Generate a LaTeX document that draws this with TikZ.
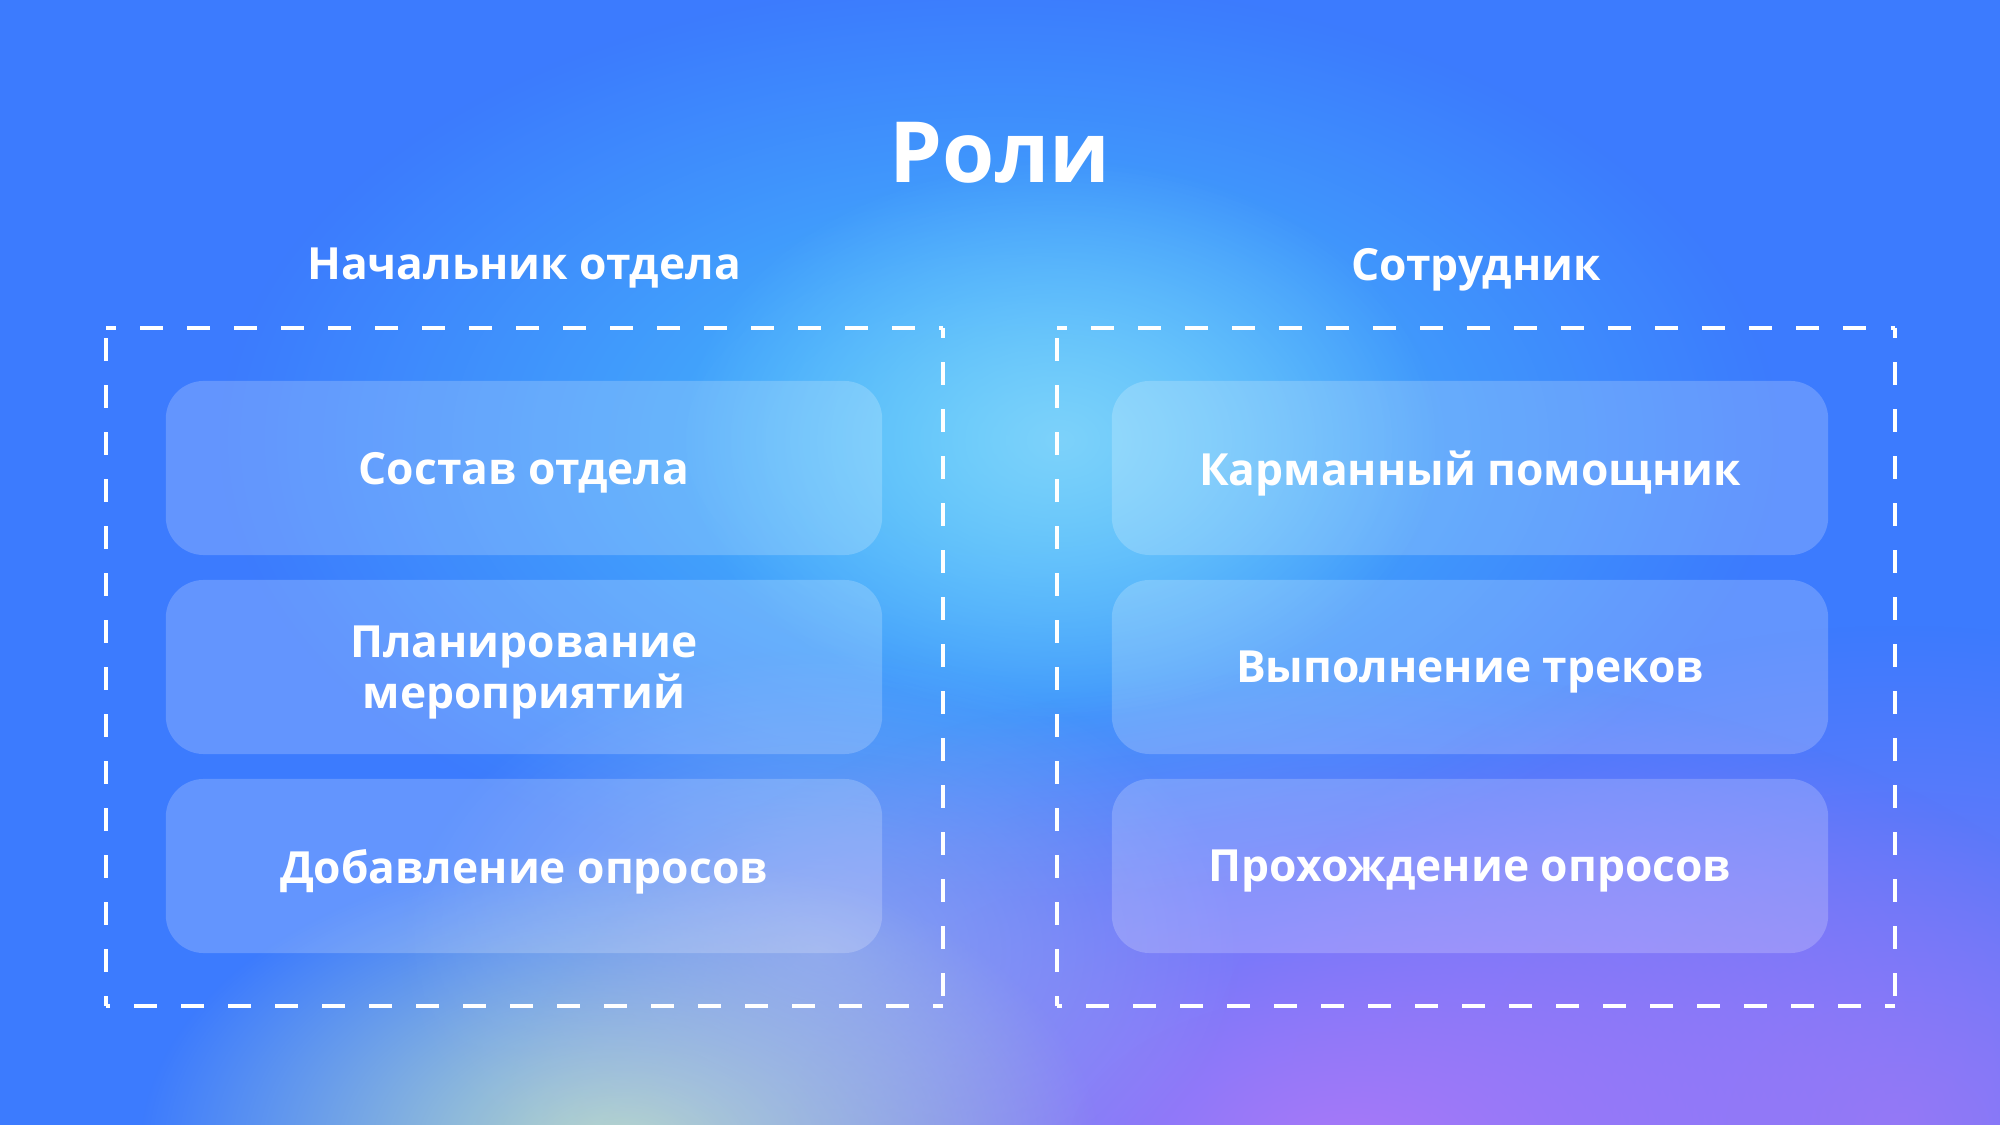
\documentclass[tikz,border=0pt]{standalone}
\usepackage{fontspec}
\setmainfont{Open Sans}
\usetikzlibrary{fadings}
\definecolor{bgblue}{HTML}{3C7BFE}
\definecolor{glowcyan}{HTML}{46BEFA}
\definecolor{glowpurple}{HTML}{A878F8}
\definecolor{glowgreen}{HTML}{BCDCC8}
\definecolor{glowviolet}{HTML}{8A78F6}
\definecolor{glowlilac}{HTML}{A8BCEC}
\tikzfading[name=glow, inner color=transparent!0, outer color=transparent!100]
\tikzset{
  rolebox/.style={rounded corners=0.38cm, fill=white, fill opacity=0.2, text opacity=1,
    minimum width=7.16cm, minimum height=1.74cm, text=white, align=center, text depth=0pt,
    font=\bfseries\fontsize{12.6pt}{14.6pt}\selectfont},
  header/.style={text=white, text depth=0pt, font=\bfseries\fontsize{12.6pt}{16pt}\selectfont},
  dashline/.style={draw=white, line width=0.034cm, dash pattern=on 0.23cm off 0.24cm, dash phase=0.13cm}
}
\begin{document}
\begin{tikzpicture}[x=0.01cm,y=-0.01cm]
\useasboundingbox (0,0) rectangle (2000,1125);
\fill[bgblue] (0,0) rectangle (2000,1125);
\fill[glowviolet, path fading=glow] (1900,1125) ellipse (700 and 500);
\fill[glowcyan, path fading=glow] (1000,440) ellipse (780 and 460);
\fill[glowpurple, path fading=glow] (1350,1150) ellipse (850 and 480);
\fill[glowgreen, path fading=glow] (620,1150) ellipse (480 and 300);
\fill[glowlilac, opacity=0.6, path fading=glow] (820,950) ellipse (420 and 300);
\fill[glowcyan!70!white, path fading=glow] (1060,440) ellipse (380 and 280);

\node[text=white, font=\bfseries\fontsize{24pt}{28pt}\selectfont] (title) at (1000,153) {Роли};
\node[header] (hl) at (524,264) {Начальник отдела};
\node[header] (hr) at (1476,264) {Сотрудник};

% dashed frames
\coordinate (l1) at (106,328); \coordinate (l2) at (943,328);
\coordinate (l3) at (943,1006); \coordinate (l4) at (106,1006);
\coordinate (r1) at (1057,328); \coordinate (r2) at (1895,328);
\coordinate (r3) at (1895,1006); \coordinate (r4) at (1057,1006);
\draw[dashline] (l1) -- (l2); \draw[dashline] (l2) -- (l3);
\draw[dashline] (l3) -- (l4); \draw[dashline] (l4) -- (l1);
\draw[dashline] (r1) -- (r2); \draw[dashline] (r2) -- (r3);
\draw[dashline] (r3) -- (r4); \draw[dashline] (r4) -- (r1);

\node[rolebox] (a1) at (524,468) {Состав отдела};
\node[rolebox] (a2) at (524,667) {Планирование\\мероприятий};
\node[rolebox] (a3) at (524,866) {Добавление опросов};
\node[rolebox] (b1) at (1470,468) {Карманный помощник};
\node[rolebox] (b2) at (1470,667) {Выполнение треков};
\node[rolebox] (b3) at (1470,866) {Прохождение опросов};
\end{tikzpicture}
\end{document}
